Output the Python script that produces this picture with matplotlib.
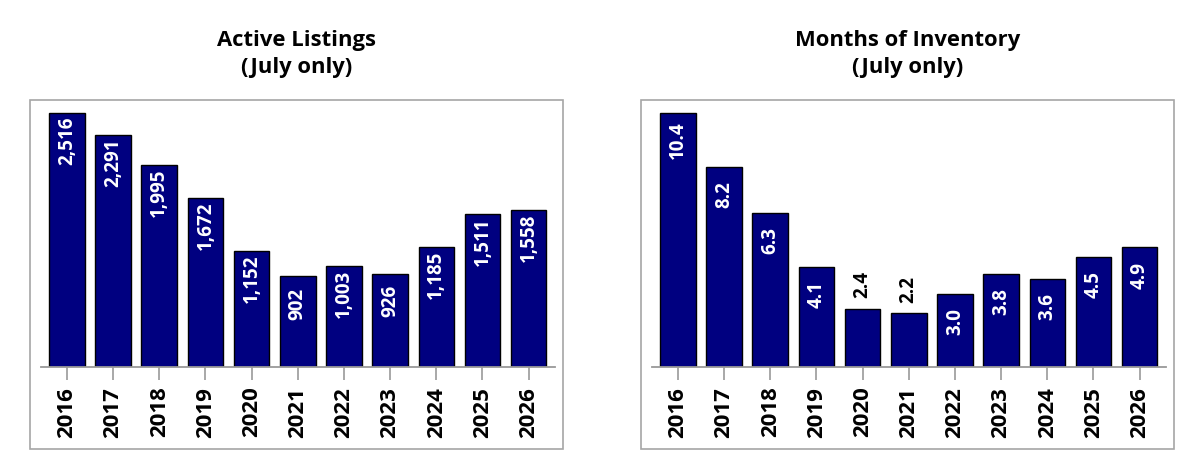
import matplotlib
matplotlib.use("Agg")
import matplotlib.pyplot as plt
from matplotlib.patches import Rectangle

plt.rcParams['font.family'] = ['Open Sans', 'DejaVu Sans']

years = ["2016", "2017", "2018", "2019", "2020", "2021", "2022", "2023", "2024", "2025", "2026"]
active_listings = [2516, 2291, 1995, 1672, 1152, 902, 1003, 926, 1185, 1511, 1558]
months_inventory = [10.4, 8.2, 6.3, 4.1, 2.4, 2.2, 3.0, 3.8, 3.6, 4.5, 4.9]
titles = ["Active Listings\n(July only)", "Months of Inventory\n(July only)"]

W, H = 1200, 474
fig = plt.figure(figsize=(W / 100, H / 100), dpi=100)

BAR = "#000080"
GRAY = "#a6a6a6"

panels = [
    dict(box=(30, 100, 563, 449), axx=(41, 555), vals=active_listings,
         fmt=lambda v: f"{v:,.0f}", ytop=2641.5, outside=set()),
    dict(box=(641, 100, 1174, 449), axx=(652, 1166), vals=months_inventory,
         fmt=lambda v: f"{v:.1f}", ytop=10.92, outside={4, 5}),
]

baseline = 367.3
for p, title in zip(panels, titles):
    x0, y0, x1, y1 = p["box"]
    fig.patches.append(Rectangle((x0 / W, 1 - y1 / H), (x1 - x0) / W, (y1 - y0) / H,
                                 transform=fig.transFigure, fill=False,
                                 edgecolor=GRAY, linewidth=1.2))
    ax = fig.add_axes([p["axx"][0] / W, 1 - baseline / H,
                       (p["axx"][1] - p["axx"][0]) / W, (baseline - y0) / H])
    xs = list(range(len(years)))
    ax.bar(xs, p["vals"], width=0.77, color=BAR, edgecolor="black", linewidth=1.0, zorder=2)
    ax.set_xlim(-0.56, 10.57)
    ax.set_ylim(0, p["ytop"])
    for s in ["top", "left", "right"]:
        ax.spines[s].set_visible(False)
    ax.spines["bottom"].set_color("#999999")
    ax.spines["bottom"].set_linewidth(1.3)
    ax.set_yticks([])
    ax.set_xticks(xs)
    ax.set_xticklabels(years, rotation=90, fontsize=16, fontweight="bold")
    ax.tick_params(axis="x", length=9, width=1.2, color="#999999", pad=5)
    ax.patch.set_alpha(0)
    for i, v in enumerate(p["vals"]):
        if i in p["outside"]:
            ax.annotate(p["fmt"](v), (i, v), xytext=(0, 17), textcoords="offset points",
                        rotation=90, ha="center", va="center", fontsize=13.5,
                        fontweight="bold", color="black")
        else:
            ax.annotate(p["fmt"](v), (i, v), xytext=(0, -20), textcoords="offset points",
                        rotation=90, ha="center", va="center", fontsize=13.5,
                        fontweight="bold", color="white")
    cx = (x0 + x1) / 2 / W
    fig.text(cx, 1 - 54 / H, title, ha="center", va="center", fontsize=15.8,
             fontweight="bold", linespacing=1.38, color="black")

fig.savefig("out.png", dpi=100)
